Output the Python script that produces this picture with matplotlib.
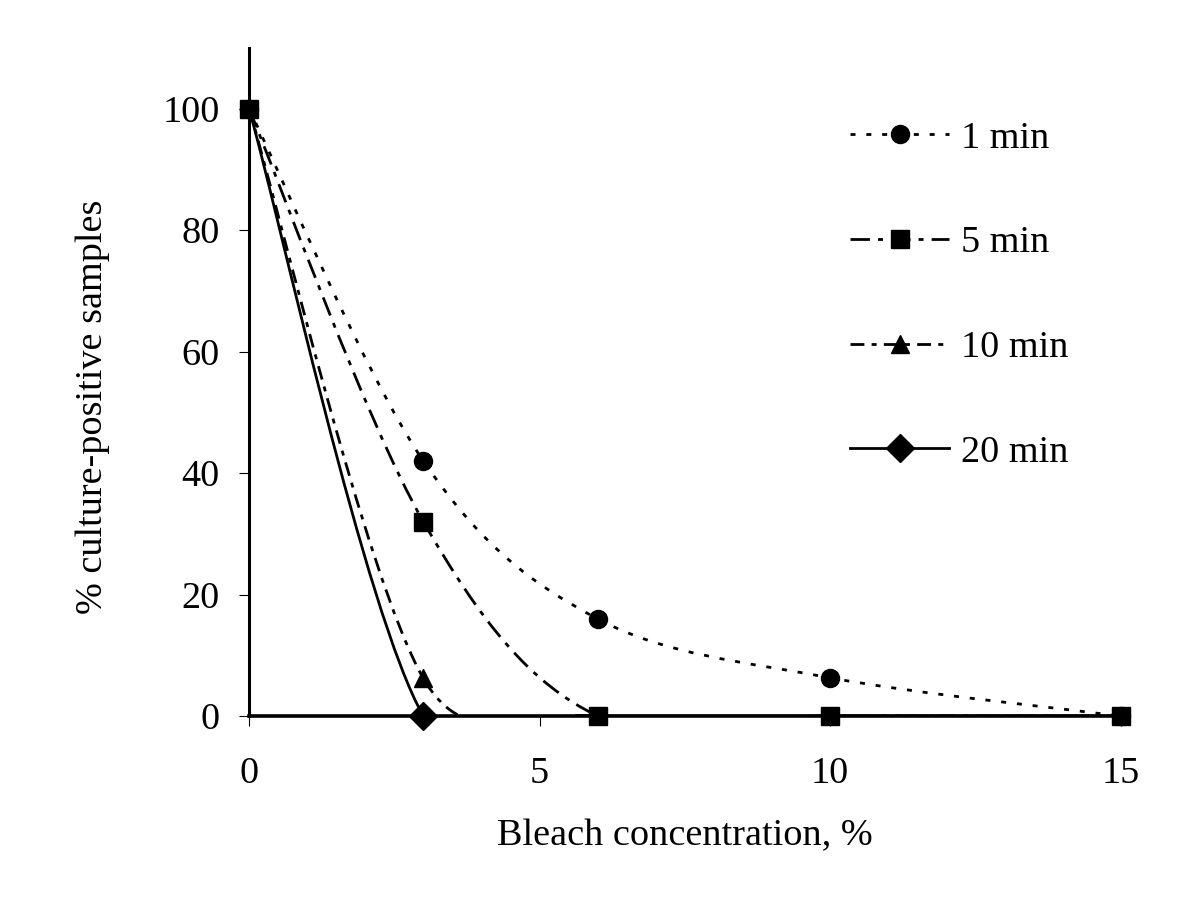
import matplotlib.pyplot as plt
import numpy as np
from matplotlib.path import Path
from matplotlib.patches import PathPatch
from matplotlib.lines import Line2D

plt.rcParams['font.family'] = ['Liberation Serif', 'DejaVu Serif']

# bleach concentration (%)
conc = [0, 3, 6, 10, 15]
labels = ['1 min', '5 min', '10 min', '20 min']
# % culture-positive samples for each exposure time
pos_1min = [100, 42, 16, 6.3, 0]
pos_5min = [100, 32, 0, 0, 0]
pos_10min = [100, 6.2, 0, 0, 0]
pos_20min = [100, 0, 0, 0, 0]

series = [pos_1min, pos_5min, pos_10min, pos_20min]
markers = ['o', 's', '^', 'D']
msizes = [13, 13, 13, 14]
styles = [(0, (1.8, 3.9)), (0, (7, 2.9, 1.8, 2.9)), (0, (5, 2.6, 1.8, 2.6)), '-']
mzorder = [7, 8, 6, 5]
# only the markers that are not hidden under the squares
mevery = [None, None, [1], [1]]


def smooth_path(ax, xs, ys, f=1 / 6):
    # Excel-style smoothed line, control arms worked out in screen space
    to_px = ax.transData
    pts = to_px.transform(np.column_stack([xs, ys]).astype(float))
    n = len(pts)
    verts = [pts[0]]
    codes = [Path.MOVETO]
    for i in range(n - 1):
        p0 = pts[i - 1] if i > 0 else pts[i]
        p1 = pts[i]
        p2 = pts[i + 1]
        p3 = pts[i + 2] if i + 2 < n else pts[i + 1]
        d12 = np.hypot(*(p2 - p1))
        d02 = np.hypot(*(p2 - p0))
        d13 = np.hypot(*(p3 - p1))
        f1 = f if d02 * f < d12 / 2 else (d12 / 2) / d02
        f2 = f if d13 * f < d12 / 2 else (d12 / 2) / d13
        c1 = p1 + (p2 - p0) * f1
        c2 = p2 - (p3 - p1) * f2
        verts += [c1, c2, p2]
        codes += [Path.CURVE4] * 3
    verts = to_px.inverted().transform(np.array(verts))
    return Path(verts, codes)


fig = plt.figure(figsize=(12, 9), dpi=100)
ax = fig.add_axes([0.2075, 0.2044, 0.7265, 0.7423])
ax.set_xlim(0, 15)
ax.set_ylim(0, 110)

lw = 2.0
fs = 27.5
handles = []
for ys, mk, ms, ls, zo, me in zip(series, markers, msizes, styles, mzorder, mevery):
    patch = PathPatch(smooth_path(ax, conc, ys), facecolor='none', edgecolor='black',
                      lw=lw, linestyle=ls)
    ax.add_patch(patch)
    ax.plot(conc, ys, linestyle='none', marker=mk, markersize=ms, color='black',
            markevery=me, clip_on=False, zorder=zo)
    handles.append(Line2D([], [], color='black', lw=lw, linestyle=ls,
                          marker=mk, markersize=ms))

ax.set_xticks([0, 5, 10, 15])
ax.set_yticks([0, 20, 40, 60, 80, 100])
ax.spines['top'].set_visible(False)
ax.spines['right'].set_visible(False)
ax.spines['left'].set_linewidth(2.2)
ax.spines['bottom'].set_linewidth(2.6)
ax.tick_params(direction='out', length=7, width=0.8, labelsize=fs)
ax.tick_params(axis='y', pad=14)
ax.tick_params(axis='x', pad=22)

ax.set_xlabel('Bleach concentration, %', fontsize=fs, labelpad=20)
ax.set_ylabel('% culture-positive samples', fontsize=fs, labelpad=38, y=0.4626)

fig.legend(handles=handles, labels=labels, loc='upper left', frameon=False,
           fontsize=fs, handlelength=2.6, handletextpad=0.3, labelspacing=1.83,
           borderpad=0, borderaxespad=0,
           bbox_to_anchor=(850 / 1200, 1 - 121 / 900),
           bbox_transform=fig.transFigure)

fig.savefig('out.png', dpi=100)
